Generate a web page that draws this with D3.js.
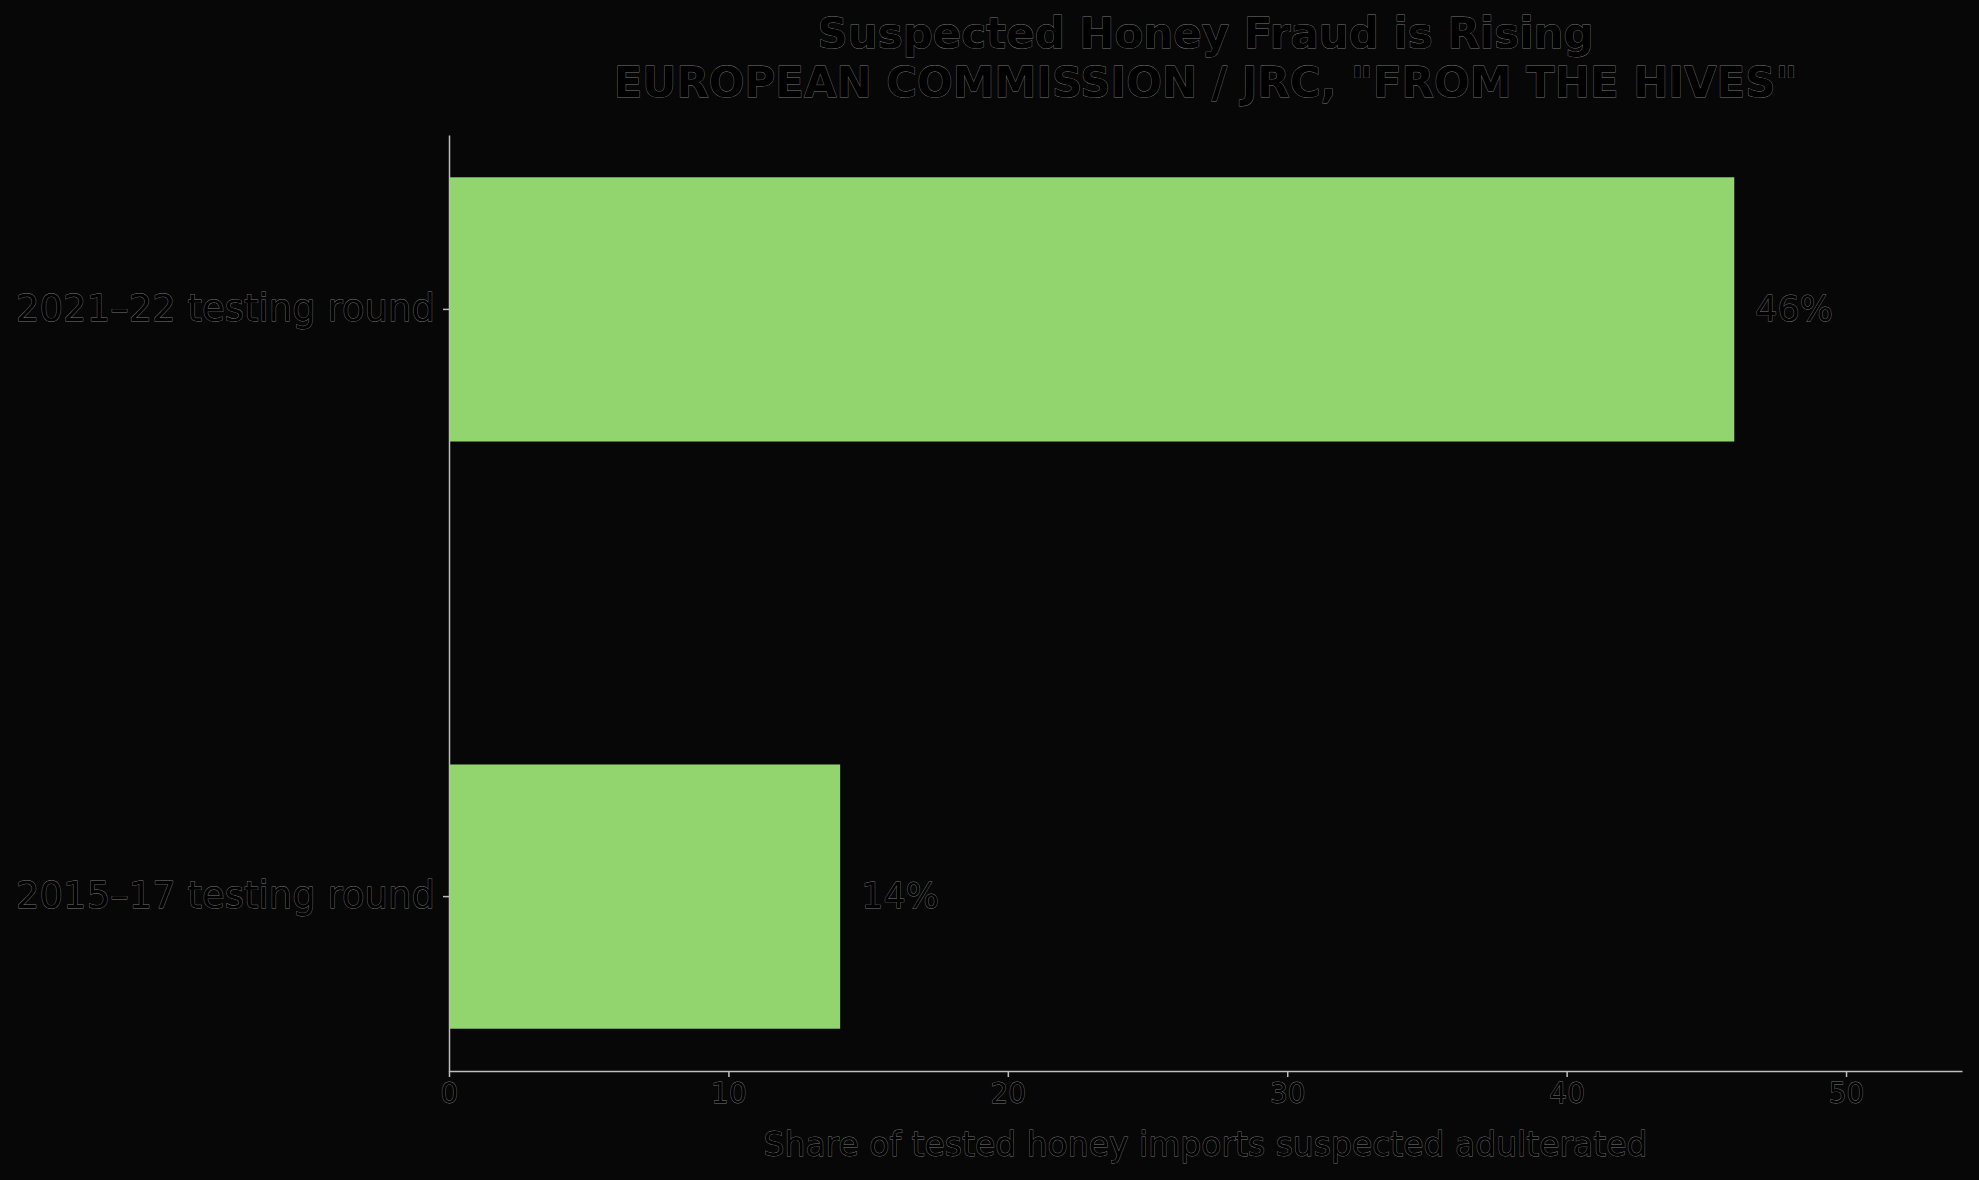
<!DOCTYPE html>
<html>
<head>
<meta charset="utf-8">
<script src="https://cdn.jsdelivr.net/npm/d3@7"></script>
<style>
  html, body { margin: 0; padding: 0; background: #070707; }
  text { font-family: "DejaVu Sans", sans-serif; fill: #000; stroke: #767676; stroke-width: 0.8; paint-order: stroke; }
</style>
</head>
<body>
<div id="chart"></div>
<script>
// data
const rounds = ["2021–22 testing round", "2015–17 testing round"];
const shares = [46, 14];
const valueLabels = ["46%", "14%"];
const xTicks = [0, 10, 20, 30, 40, 50];
const xMax = 54.15;
const titleLines = ["Suspected Honey Fraud is Rising", "EUROPEAN COMMISSION / JRC, \"FROM THE HIVES\""];
const xLabel = "Share of tested honey imports suspected adulterated";

const W = 1979, H = 1180;
const margin = { top: 135, right: 17, bottom: 109, left: 449 };
const width = W - margin.left - margin.right;
const height = H - margin.top - margin.bottom;

const svgRoot = d3.select("#chart")
    .append("svg")
    .attr("width", W)
    .attr("height", H);

svgRoot.append("rect")
    .attr("width", W)
    .attr("height", H)
    .attr("fill", "#070707");

const svg = svgRoot.append("g")
    .attr("transform", "translate(" + margin.left + "," + margin.top + ")");

// x: share in percent
const x = d3.scaleLinear()
    .domain([0, xMax])
    .range([0, width]);

// y: one band per testing round, newest on top
const y = d3.scaleBand()
    .domain(rounds)
    .range([0, height])
    .paddingInner(0.55)
    .paddingOuter(0.072);

const data = rounds.map((r, i) => ({ round: r, share: shares[i], label: valueLabels[i] }));

// bars
svg.selectAll(".bar")
    .data(data)
    .enter()
    .append("rect")
    .attr("class", "bar")
    .attr("x", x(0))
    .attr("y", d => y(d.round))
    .attr("width", d => x(d.share) - x(0))
    .attr("height", y.bandwidth())
    .attr("fill", "#92d46e");

// value labels next to bars
svg.selectAll(".val")
    .data(data)
    .enter()
    .append("text")
    .attr("class", "val")
    .attr("x", d => x(d.share) + 21)
    .attr("y", d => y(d.round) + y.bandwidth() / 2)
    .attr("dy", "0.32em")
    .style("font-size", "35px")
    .text(d => d.label);

// axes (no outer ticks, like plain spines)
const xAxis = svg.append("g")
    .attr("transform", "translate(0," + height + ")")
    .call(d3.axisBottom(x).tickValues(xTicks).tickFormat(d3.format("d"))
        .tickSizeInner(6).tickSizeOuter(0).tickPadding(6));

const yAxis = svg.append("g")
    .call(d3.axisLeft(y).tickSizeInner(6).tickSizeOuter(0).tickPadding(8));

[xAxis, yAxis].forEach(a => {
    a.select(".domain").attr("stroke", "#bdbdbd").attr("stroke-width", 1.5);
    a.selectAll(".tick line").attr("stroke", "#bdbdbd").attr("stroke-width", 1.5);
    a.selectAll(".tick text").attr("fill", "#000");
});
xAxis.selectAll(".tick text").style("font-size", "28px");
yAxis.selectAll(".tick text").style("font-size", "37px");

// x axis label
svg.append("text")
    .attr("x", width / 2)
    .attr("y", height + 85)
    .attr("text-anchor", "middle")
    .style("font-size", "33px")
    .text(xLabel);

// title, two lines centred on the plot area
svg.append("g")
    .selectAll("text")
    .data(titleLines)
    .enter()
    .append("text")
    .attr("x", width / 2)
    .attr("y", (d, i) => -87 + i * 49)
    .attr("text-anchor", "middle")
    .style("font-size", "42px")
    .style("font-weight", "bold")
    .text(d => d);
</script>
</body>
</html>
